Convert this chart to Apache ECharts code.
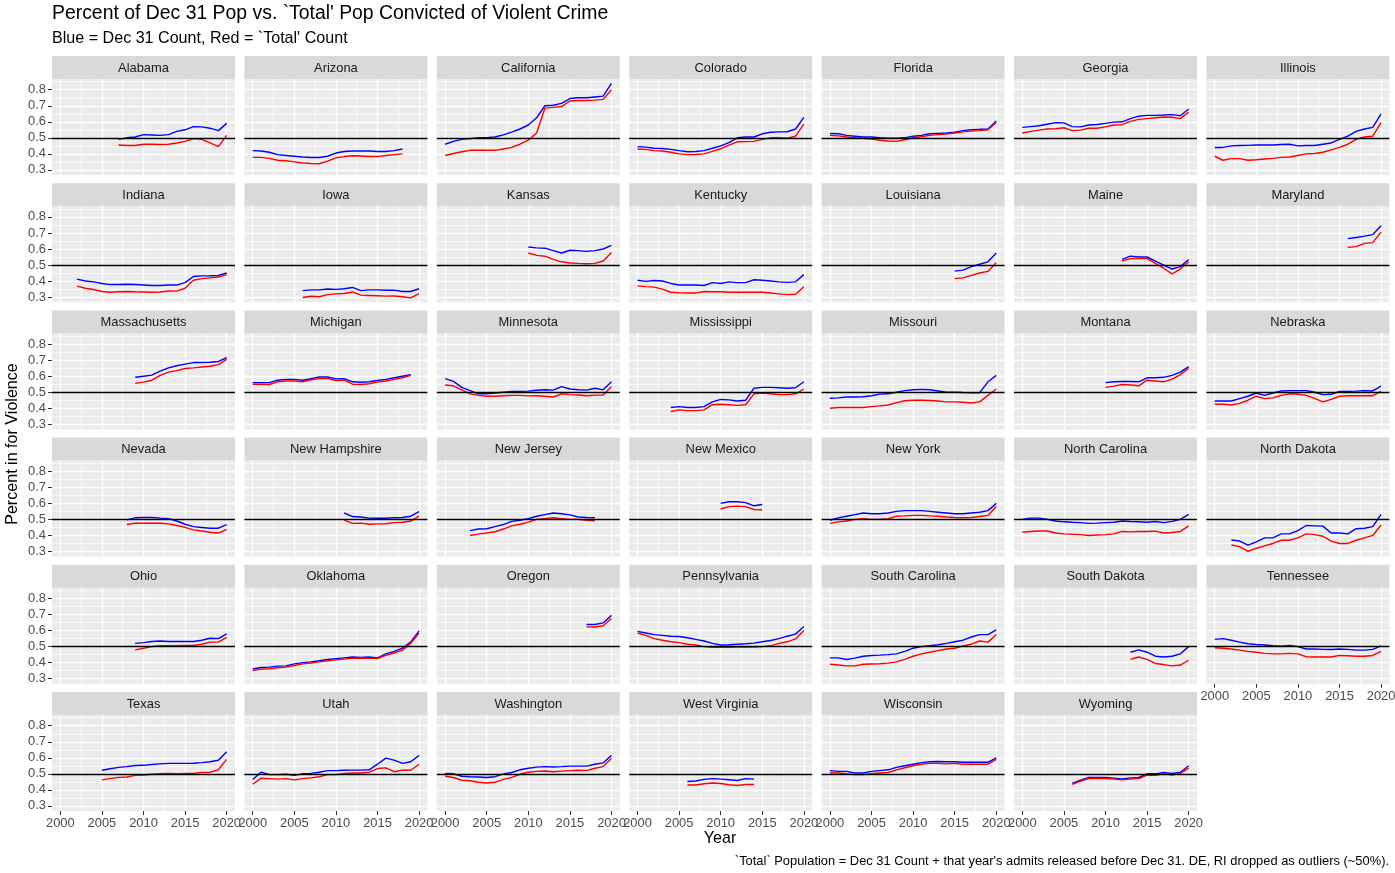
<!DOCTYPE html>
<html><head><meta charset="utf-8">
<script src="https://cdn.jsdelivr.net/npm/echarts@6/dist/echarts.min.js"></script>
<style>html,body{margin:0;padding:0;background:#fff}#c{width:1395px;height:873px}</style>
</head><body><div id="c"></div><script>
const _ = null;
const years = [2000,2001,2002,2003,2004,2005,2006,2007,2008,2009,2010,2011,2012,2013,2014,2015,2016,2017,2018,2019,2020];
const xTicks = [2000,2005,2010,2015,2020];
const xMinor = [2002.5,2007.5,2012.5,2017.5];
const yTicks = [0.3,0.4,0.5,0.6,0.7,0.8];
const yMinor = [0.35,0.45,0.55,0.65,0.75,0.85];
const refLine = 0.5;

const states = ["Alabama","Arizona","California","Colorado","Florida","Georgia","Illinois",
"Indiana","Iowa","Kansas","Kentucky","Louisiana","Maine","Maryland",
"Massachusetts","Michigan","Minnesota","Mississippi","Missouri","Montana","Nebraska",
"Nevada","New Hampshire","New Jersey","New Mexico","New York","North Carolina","North Dakota",
"Ohio","Oklahoma","Oregon","Pennsylvania","South Carolina","South Dakota","Tennessee",
"Texas","Utah","Washington","West Virginia","Wisconsin","Wyoming"];

// Blue = Dec 31 count, Red = `Total' count
const AL_dec31 = [_,_,_,_,_,_,_,.49,.50,.505,.52,.518,.515,.52,.54,.55,.57,.568,.56,.545,.59];
const AL_total = [_,_,_,_,_,_,_,.455,.452,.452,.46,.46,.458,.46,.468,.478,.495,.49,.468,.445,.515];
const AZ_dec31 = [.42,.418,.41,.395,.39,.385,.38,.377,.377,.385,.405,.415,.418,.418,.418,.415,.415,.42,.43,_,_];
const AZ_total = [.378,.378,.372,.36,.357,.35,.343,.34,.338,.355,.375,.383,.388,.387,.383,.383,.39,.395,.40,_,_];
const CA_dec31 = [.46,.478,.49,.495,.50,.50,.505,.518,.535,.555,.58,.625,.70,.703,.715,.745,.75,.75,.755,.76,.84];
const CA_total = [.39,.402,.413,.422,.423,.422,.422,.43,.44,.46,.485,.53,.685,.69,.695,.73,.733,.733,.735,.74,.80];
const CO_dec31 = [.445,.442,.435,.433,.428,.42,.413,.415,.42,.435,.45,.47,.50,.505,.505,.525,.535,.537,.538,.555,.627];
const CO_total = [.43,.428,.42,.418,.41,.40,.395,.396,.40,.415,.432,.455,.475,.476,.478,.49,.50,.50,.497,.51,.585];
const FL_dec31 = [.527,.525,.515,.51,.505,.505,.50,.497,.497,.50,.51,.515,.525,.528,.53,.535,.545,.55,.553,.555,.605];
const FL_total = [.515,.512,.505,.50,.497,.492,.485,.48,.478,.488,.50,.507,.515,.52,.523,.53,.537,.542,.545,.55,.595];
const GA_dec31 = [.565,.57,.575,.585,.595,.593,.57,.568,.58,.583,.59,.598,.60,.62,.635,.64,.64,.642,.645,.638,.68];
const GA_total = [.53,.54,.548,.555,.557,.563,.545,.548,.56,.56,.568,.58,.582,.603,.615,.62,.625,.63,.628,.62,.66];
const IL_dec31 = [.44,.44,.45,.452,.453,.455,.455,.455,.458,.46,.45,.452,.452,.46,.468,.49,.51,.54,.555,.565,.65];
const IL_total = [.385,.36,.37,.37,.36,.363,.368,.372,.378,.38,.39,.40,.402,.41,.425,.44,.46,.49,.505,.51,.595];
const IN_dec31 = [_,_,.412,.40,.395,.385,.378,.378,.38,.378,.375,.372,.372,.375,.375,.39,.428,.432,.433,.435,.45];
const IN_total = [_,_,.368,.355,.347,.335,.33,.333,.335,.333,.332,.33,.332,.338,.337,.355,.405,.415,.42,.425,.44];
const IA_dec31 = [_,_,_,_,_,_,.34,.345,.345,.35,.348,.352,.36,.34,.345,.345,.343,.343,.335,.335,.352];
const IA_total = [_,_,_,_,_,_,.297,.305,.302,.315,.32,.322,.332,.312,.31,.308,.306,.307,.302,.295,.322];
const KS_dec31 = [_,_,_,_,_,_,_,_,_,_,.612,.607,.605,.59,.575,.592,.59,.585,.59,.60,.622];
const KS_total = [_,_,_,_,_,_,_,_,_,_,.575,.56,.555,.535,.52,.513,.51,.508,.51,.525,.578];
const KY_dec31 = [.405,.398,.403,.40,.385,.375,.375,.375,.372,.39,.385,.395,.39,.39,.408,.405,.40,.395,.392,.395,.44];
const KY_total = [.37,.365,.362,.35,.33,.327,.325,.325,.335,.333,.333,.33,.33,.33,.33,.33,.325,.32,.315,.318,.365];
const LA_dec31 = [_,_,_,_,_,_,_,_,_,_,_,_,_,_,_,.462,.468,.49,.505,.52,.575];
const LA_total = [_,_,_,_,_,_,_,_,_,_,_,_,_,_,_,.415,.42,.435,.45,.46,.515];
const ME_dec31 = [_,_,_,_,_,_,_,_,_,_,_,_,.535,.555,.55,.55,.525,.50,.475,.49,.535];
const ME_total = [_,_,_,_,_,_,_,_,_,_,_,_,.525,.54,.54,.54,.51,.48,.445,.475,.52];
const MD_dec31 = [_,_,_,_,_,_,_,_,_,_,_,_,_,_,_,_,.665,.672,.68,.69,.745];
const MD_total = [_,_,_,_,_,_,_,_,_,_,_,_,_,_,_,_,.61,.615,.635,.64,.705];
const MA_dec31 = [_,_,_,_,_,_,_,_,_,.593,.60,.607,.632,.652,.665,.675,.685,.685,.687,.692,.715];
const MA_total = [_,_,_,_,_,_,_,_,_,.555,.563,.575,.605,.625,.635,.648,.652,.657,.662,.672,.705];
const MI_dec31 = [.56,.56,.56,.575,.58,.58,.575,.585,.595,.595,.583,.585,.565,.562,.565,.573,.58,.59,.60,.61,_];
const MI_total = [.55,.55,.548,.565,.57,.57,.565,.578,.585,.585,.573,.575,.55,.548,.553,.563,.57,.58,.59,.605,_];
const MN_dec31 = [.585,.568,.53,.51,.49,.49,.495,.50,.505,.505,.507,.512,.515,.513,.535,.52,.515,.513,.525,.515,.565];
const MN_total = [.545,.54,.515,.49,.48,.475,.475,.478,.48,.48,.477,.478,.475,.47,.49,.485,.483,.478,.482,.483,.535];
const MS_dec31 = [_,_,_,_,.405,.41,.405,.405,.41,.44,.455,.452,.445,.45,.525,.53,.53,.528,.525,.528,.565];
const MS_total = [_,_,_,_,.38,.39,.385,.385,.39,.422,.425,.422,.418,.422,.49,.495,.49,.485,.485,.49,.52];
const MO_dec31 = [.462,.465,.47,.47,.472,.478,.488,.49,.50,.51,.515,.518,.515,.508,.50,.50,.498,.497,.497,.565,.605];
const MO_total = [.40,.405,.405,.405,.405,.41,.415,.42,.435,.447,.45,.45,.448,.445,.44,.44,.437,.433,.44,.48,.52];
const MT_dec31 = [_,_,_,_,_,_,_,_,_,_,.56,.565,.567,.567,.565,.59,.59,.593,.605,.625,.66];
const MT_total = [_,_,_,_,_,_,_,_,_,_,.53,.538,.548,.545,.54,.575,.57,.565,.582,.61,.648];
const NE_dec31 = [.445,.445,.445,.46,.475,.495,.48,.495,.508,.51,.51,.51,.50,.485,.487,.505,.505,.507,.51,.508,.538];
const NE_total = [.425,.425,.42,.43,.45,.475,.46,.465,.48,.49,.487,.48,.462,.44,.455,.475,.478,.478,.478,.478,.505];
const NV_dec31 = [_,_,_,_,_,_,_,_,.497,.51,.512,.512,.508,.505,.49,.47,.455,.45,.445,.445,.468];
const NV_total = [_,_,_,_,_,_,_,_,.468,.477,.476,.476,.476,.472,.462,.45,.435,.428,.42,.415,.438];
const NH_dec31 = [_,_,_,_,_,_,_,_,_,_,_,.54,.518,.515,.508,.507,.507,.51,.512,.52,.548];
const NH_total = [_,_,_,_,_,_,_,_,_,_,_,.495,.475,.477,.47,.472,.473,.48,.482,.49,.52];
const NJ_dec31 = [_,_,_,.43,.44,.442,.455,.468,.488,.495,.505,.52,.53,.54,.535,.528,.515,.512,.51,_,_];
const NJ_total = [_,_,_,.40,.408,.415,.423,.44,.46,.47,.483,.50,.505,.51,.505,.50,.50,.495,.492,_,_];
const NM_dec31 = [_,_,_,_,_,_,_,_,_,_,.60,.61,.61,.605,.585,.593,_,_,_,_,_];
const NM_total = [_,_,_,_,_,_,_,_,_,_,.565,.58,.583,.58,.562,.56,_,_,_,_,_];
const NY_dec31 = [.495,.51,.52,.53,.54,.535,.535,.54,.55,.555,.555,.555,.55,.545,.54,.535,.535,.54,.545,.555,.60];
const NY_total = [.475,.485,.49,.50,.505,.50,.50,.505,.52,.522,.525,.525,.522,.52,.515,.512,.51,.512,.518,.525,.58];
const NC_dec31 = [.50,.508,.508,.50,.49,.485,.482,.48,.475,.477,.48,.482,.49,.487,.485,.482,.487,.48,.488,.50,.532];
const NC_total = [.42,.425,.428,.428,.415,.41,.407,.405,.40,.403,.405,.41,.425,.422,.425,.425,.427,.415,.418,.425,.46];
const ND_dec31 = [_,_,.372,.365,.34,.36,.385,.385,.41,.41,.43,.462,.46,.458,.415,.415,.41,.442,.445,.455,.532];
const ND_total = [_,_,.34,.33,.30,.32,.335,.35,.37,.37,.385,.41,.405,.395,.365,.35,.35,.37,.385,.40,.465];
const OH_dec31 = [_,_,_,_,_,_,_,_,_,.52,.525,.532,.535,.532,.532,.532,.532,.54,.552,.55,.58];
const OH_total = [_,_,_,_,_,_,_,_,_,.48,.49,.50,.505,.505,.505,.507,.507,.515,.528,.528,.558];
const OK_dec31 = [.36,.37,.372,.378,.38,.392,.40,.405,.412,.42,.425,.43,.435,.432,.435,.43,.455,.47,.49,.53,.598];
const OK_total = [.35,.36,.362,.368,.372,.382,.392,.398,.405,.412,.418,.422,.428,.427,.428,.425,.445,.46,.478,.52,.585];
const OR_dec31 = [_,_,_,_,_,_,_,_,_,_,_,_,_,_,_,_,_,.638,.638,.648,.695];
const OR_total = [_,_,_,_,_,_,_,_,_,_,_,_,_,_,_,_,_,.623,.622,.63,.675];
const PA_dec31 = [.595,.585,.575,.57,.565,.563,.555,.545,.535,.52,.51,.512,.515,.518,.522,.53,.538,.55,.565,.578,.625];
const PA_total = [.585,.57,.55,.54,.53,.525,.515,.51,.50,.495,.495,.495,.497,.497,.497,.50,.505,.52,.53,.548,.60];
const SC_dec31 = [.43,.43,.42,.428,.44,.445,.447,.45,.455,.47,.49,.50,.505,.512,.52,.53,.54,.56,.575,.575,.605];
const SC_total = [.39,.385,.38,.38,.39,.392,.393,.397,.405,.42,.44,.455,.465,.475,.485,.49,.505,.515,.535,.528,.575];
const SD_dec31 = [_,_,_,_,_,_,_,_,_,_,_,_,_,.465,.48,.465,.44,.435,.44,.455,.50];
const SD_total = [_,_,_,_,_,_,_,_,_,_,_,_,_,.42,.435,.42,.395,.388,.38,.385,.415];
const TN_dec31 = [.545,.55,.54,.528,.518,.513,.51,.505,.503,.508,.50,.485,.485,.483,.482,.485,.483,.478,.478,.483,.505];
const TN_total = [.493,.49,.485,.478,.47,.465,.458,.455,.455,.458,.455,.437,.435,.435,.435,.445,.443,.44,.44,.445,.47];
const TX_dec31 = [_,_,_,_,_,.522,.532,.54,.545,.552,.553,.558,.562,.565,.565,.565,.566,.57,.575,.585,.638];
const TX_total = [_,_,_,_,_,.462,.47,.478,.48,.49,.493,.497,.50,.502,.50,.502,.503,.508,.51,.525,.59];
const UT_dec31 = [.465,.51,.495,.495,.497,.49,.50,.503,.51,.52,.52,.522,.523,.523,.525,.56,.598,.585,.565,.575,.615];
const UT_total = [.435,.472,.47,.467,.47,.462,.47,.475,.482,.495,.495,.502,.505,.505,.51,.533,.537,.513,.523,.522,.56];
const WA_dec31 = [.503,.50,.485,.482,.48,.477,.482,.50,.508,.525,.535,.542,.545,.543,.545,.548,.548,.548,.56,.568,.615];
const WA_total = [.485,.477,.46,.457,.447,.443,.447,.465,.478,.497,.51,.515,.518,.513,.517,.52,.522,.52,.535,.545,.595];
const WV_dec31 = [_,_,_,_,_,_,.452,.455,.465,.47,.467,.463,.458,.47,.467,_,_,_,_,_,_];
const WV_total = [_,_,_,_,_,_,.43,.43,.438,.443,.44,.432,.427,.433,.433,_,_,_,_,_,_];
const WI_dec31 = [.52,.515,.515,.505,.505,.515,.52,.525,.54,.55,.56,.57,.575,.577,.575,.575,.572,.572,.572,.572,.60];
const WI_total = [.505,.505,.50,.495,.495,.50,.505,.508,.525,.538,.55,.56,.565,.565,.562,.565,.56,.56,.56,.56,.59];
const WY_dec31 = [_,_,_,_,_,_,.44,.46,.478,.477,.477,.473,.468,.475,.477,.50,.50,.508,.502,.51,.55];
const WY_total = [_,_,_,_,_,_,.435,.455,.47,.472,.47,.468,.462,.467,.47,.492,.49,.50,.492,.503,.535];

const dec31 = [AL_dec31,AZ_dec31,CA_dec31,CO_dec31,FL_dec31,GA_dec31,IL_dec31,IN_dec31,IA_dec31,KS_dec31,KY_dec31,LA_dec31,ME_dec31,MD_dec31,MA_dec31,MI_dec31,MN_dec31,MS_dec31,MO_dec31,MT_dec31,NE_dec31,NV_dec31,NH_dec31,NJ_dec31,NM_dec31,NY_dec31,NC_dec31,ND_dec31,OH_dec31,OK_dec31,OR_dec31,PA_dec31,SC_dec31,SD_dec31,TN_dec31,TX_dec31,UT_dec31,WA_dec31,WV_dec31,WI_dec31,WY_dec31];
const total = [AL_total,AZ_total,CA_total,CO_total,FL_total,GA_total,IL_total,IN_total,IA_total,KS_total,KY_total,LA_total,ME_total,MD_total,MA_total,MI_total,MN_total,MS_total,MO_total,MT_total,NE_total,NV_total,NH_total,NJ_total,NM_total,NY_total,NC_total,ND_total,OH_total,OK_total,OR_total,PA_total,SC_total,SD_total,TN_total,TX_total,UT_total,WA_total,WV_total,WI_total,WY_total];

// layout
const NCOL = 7, LEFT0 = 52, COLSTEP = 192.4, PW = 183, TOP0 = 56, ROWSTEP = 127.2, STRIPH = 23, PH = 96;
const FONT = '"Liberation Sans", Arial, Helvetica, sans-serif';
const XMIN = 1999, XMAX = 2021, YMIN = 0.268, YMAX = 0.867;
const FS_SMALL = 12.9, FS_MID = 16.1, FS_TITLE = 19.4;

const grid = [], xAxis = [], yAxis = [], series = [], graphic = [];
const n = states.length;
const noEmph = {disabled: true};
states.forEach((name, i) => {
  const c = i % NCOL, r = Math.floor(i / NCOL);
  const left = LEFT0 + c * COLSTEP;
  const stripTop = TOP0 + r * ROWSTEP;
  const top = stripTop + STRIPH;
  const hasX = i + NCOL >= n;
  const hasY = c === 0;
  grid.push({left: left, top: top, width: PW, height: PH, show: true, backgroundColor: '#EBEBEB',
    borderWidth: 0, containLabel: false, outerBoundsMode: 'none'});
  xAxis.push({type: 'value', gridIndex: i, min: XMIN, max: XMAX,
    splitLine: {show: false}, axisLine: {show: false},
    axisTick: {show: hasX, customValues: xTicks, length: 4, lineStyle: {color: '#333333', width: 1}},
    axisLabel: {show: hasX, customValues: xTicks, color: '#4D4D4D', fontSize: FS_SMALL, margin: 6,
      fontFamily: FONT, formatter: v => String(v)}});
  yAxis.push({type: 'value', gridIndex: i, min: YMIN, max: YMAX,
    splitLine: {show: false}, axisLine: {show: false},
    axisTick: {show: hasY, customValues: yTicks, length: 4, lineStyle: {color: '#333333', width: 1}},
    axisLabel: {show: hasY, customValues: yTicks, color: '#4D4D4D', fontSize: FS_SMALL, margin: 6,
      fontFamily: FONT, formatter: v => v.toFixed(1)}});
  const gl = [];
  xMinor.forEach(v => gl.push({xAxis: v, lineStyle: {color: '#FFFFFF', width: 0.7, type: 'solid'}}));
  yMinor.forEach(v => gl.push({yAxis: v, lineStyle: {color: '#FFFFFF', width: 0.7, type: 'solid'}}));
  xTicks.forEach(v => gl.push({xAxis: v, lineStyle: {color: '#FFFFFF', width: 1.4, type: 'solid'}}));
  yTicks.forEach(v => gl.push({yAxis: v, lineStyle: {color: '#FFFFFF', width: 1.4, type: 'solid'}}));
  series.push({type: 'line', xAxisIndex: i, yAxisIndex: i, data: [], silent: true, z: 1,
    markLine: {silent: true, z: 1, zlevel: 0, symbol: ['none', 'none'], animation: false, label: {show: false},
      emphasis: noEmph, data: gl}});
  series.push({type: 'line', xAxisIndex: i, yAxisIndex: i, name: 'Dec 31',
    data: years.map((y, k) => [y, dec31[i][k]]), showSymbol: false, symbol: 'none',
    connectNulls: false, silent: true, z: 3, animation: false, emphasis: noEmph,
    lineStyle: {color: '#0000FF', width: 1.4}, itemStyle: {color: '#0000FF'}});
  series.push({type: 'line', xAxisIndex: i, yAxisIndex: i, name: 'Total',
    data: years.map((y, k) => [y, total[i][k]]), showSymbol: false, symbol: 'none',
    connectNulls: false, silent: true, z: 3, animation: false, emphasis: noEmph,
    lineStyle: {color: '#FF0000', width: 1.4}, itemStyle: {color: '#FF0000'}});
  series.push({type: 'line', xAxisIndex: i, yAxisIndex: i, data: [], silent: true, z: 4,
    markLine: {silent: true, z: 6, symbol: ['none', 'none'], animation: false, label: {show: false},
      emphasis: noEmph,
      data: [{yAxis: refLine, lineStyle: {color: '#000000', width: 1.4, type: 'solid'}}]}});
  graphic.push({type: 'rect', shape: {x: left, y: stripTop, width: PW, height: STRIPH},
    style: {fill: '#D9D9D9'}, silent: true});
  graphic.push({type: 'text', x: left + PW / 2, y: stripTop + STRIPH / 2 + 0.5, silent: true,
    style: {text: name, fill: '#1A1A1A', font: FS_SMALL + 'px ' + FONT, align: 'center', verticalAlign: 'middle',
      textAlign: 'center', textVerticalAlign: 'middle'}});
});

graphic.push({type: 'text', x: 52, y: 14, silent: true,
  style: {text: "Percent of Dec 31 Pop vs. `Total' Pop Convicted of Violent Crime", fill: '#000000',
    font: FS_TITLE + 'px ' + FONT, align: 'left', verticalAlign: 'middle', textAlign: 'left', textVerticalAlign: 'middle'}});
graphic.push({type: 'text', x: 52, y: 39, silent: true,
  style: {text: "Blue = Dec 31 Count, Red = `Total' Count", fill: '#000000',
    font: FS_MID + 'px ' + FONT, align: 'left', verticalAlign: 'middle', textAlign: 'left', textVerticalAlign: 'middle'}});
graphic.push({type: 'text', x: 720, y: 839, silent: true,
  style: {text: 'Year', fill: '#000000', font: FS_MID + 'px ' + FONT, align: 'center', verticalAlign: 'middle',
    textAlign: 'center', textVerticalAlign: 'middle'}});
graphic.push({type: 'text', x: 13, y: 444, rotation: Math.PI / 2, silent: true,
  style: {text: 'Percent in for Violence', fill: '#000000', font: FS_MID + 'px ' + FONT, align: 'center',
    verticalAlign: 'middle', textAlign: 'center', textVerticalAlign: 'middle'}});
graphic.push({type: 'text', x: 1389, y: 861, silent: true,
  style: {text: "`Total` Population = Dec 31 Count + that year's admits released before Dec 31. DE, RI dropped as outliers (~50%).",
    fill: '#000000', font: FS_SMALL + 'px ' + FONT, align: 'right', verticalAlign: 'middle', textAlign: 'right', textVerticalAlign: 'middle'}});

const chart = echarts.init(document.getElementById('c'), null, {renderer: 'canvas'});
chart.setOption({animation: false, backgroundColor: '#FFFFFF', grid, xAxis, yAxis, series, graphic});
</script></body></html>
